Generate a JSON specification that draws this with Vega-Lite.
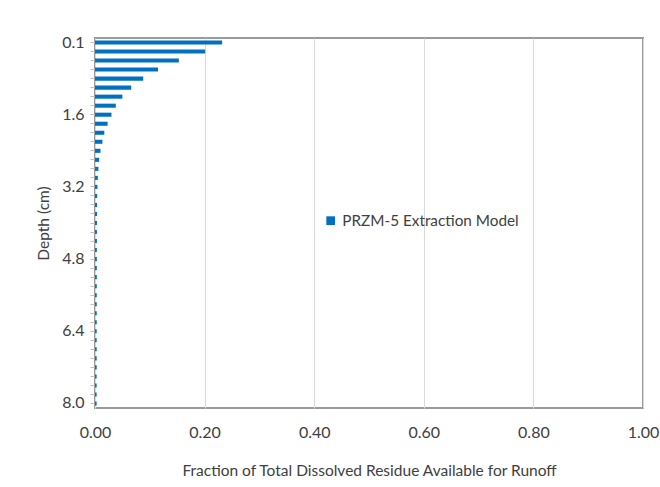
{
  "$schema": "https://vega.github.io/schema/vega-lite/v6.json",
  "autosize": {"type": "none"},
  "width": 548,
  "height": 370,
  "padding": {"left": 95, "top": 38, "right": 17, "bottom": 79},
  "background": "white",
  "config": {
    "font": "Lato",
    "view": {"stroke": "#9a9a9a", "strokeWidth": 2}
  },
  "data": {
    "values": [
      {"depth": "0.1", "fraction": 0.232, "series": "PRZM-5 Extraction Model"},
      {"depth": "0.2", "fraction": 0.201, "series": "PRZM-5 Extraction Model"},
      {"depth": "0.4", "fraction": 0.153, "series": "PRZM-5 Extraction Model"},
      {"depth": "0.6", "fraction": 0.115, "series": "PRZM-5 Extraction Model"},
      {"depth": "0.8", "fraction": 0.088, "series": "PRZM-5 Extraction Model"},
      {"depth": "1.0", "fraction": 0.066, "series": "PRZM-5 Extraction Model"},
      {"depth": "1.2", "fraction": 0.050, "series": "PRZM-5 Extraction Model"},
      {"depth": "1.4", "fraction": 0.038, "series": "PRZM-5 Extraction Model"},
      {"depth": "1.6", "fraction": 0.030, "series": "PRZM-5 Extraction Model"},
      {"depth": "1.8", "fraction": 0.023, "series": "PRZM-5 Extraction Model"},
      {"depth": "2.0", "fraction": 0.017, "series": "PRZM-5 Extraction Model"},
      {"depth": "2.2", "fraction": 0.0135, "series": "PRZM-5 Extraction Model"},
      {"depth": "2.4", "fraction": 0.010, "series": "PRZM-5 Extraction Model"},
      {"depth": "2.6", "fraction": 0.0075, "series": "PRZM-5 Extraction Model"},
      {"depth": "2.8", "fraction": 0.0062, "series": "PRZM-5 Extraction Model"},
      {"depth": "3.0", "fraction": 0.0052, "series": "PRZM-5 Extraction Model"},
      {"depth": "3.2", "fraction": 0.0045, "series": "PRZM-5 Extraction Model"},
      {"depth": "3.4", "fraction": 0.0040, "series": "PRZM-5 Extraction Model"},
      {"depth": "3.6", "fraction": 0.0038, "series": "PRZM-5 Extraction Model"},
      {"depth": "3.8", "fraction": 0.0037, "series": "PRZM-5 Extraction Model"},
      {"depth": "4.0", "fraction": 0.0036, "series": "PRZM-5 Extraction Model"},
      {"depth": "4.2", "fraction": 0.0035, "series": "PRZM-5 Extraction Model"},
      {"depth": "4.4", "fraction": 0.0035, "series": "PRZM-5 Extraction Model"},
      {"depth": "4.6", "fraction": 0.0034, "series": "PRZM-5 Extraction Model"},
      {"depth": "4.8", "fraction": 0.0034, "series": "PRZM-5 Extraction Model"},
      {"depth": "5.0", "fraction": 0.0033, "series": "PRZM-5 Extraction Model"},
      {"depth": "5.2", "fraction": 0.0033, "series": "PRZM-5 Extraction Model"},
      {"depth": "5.4", "fraction": 0.0033, "series": "PRZM-5 Extraction Model"},
      {"depth": "5.6", "fraction": 0.0032, "series": "PRZM-5 Extraction Model"},
      {"depth": "5.8", "fraction": 0.0032, "series": "PRZM-5 Extraction Model"},
      {"depth": "6.0", "fraction": 0.0032, "series": "PRZM-5 Extraction Model"},
      {"depth": "6.2", "fraction": 0.0032, "series": "PRZM-5 Extraction Model"},
      {"depth": "6.4", "fraction": 0.0031, "series": "PRZM-5 Extraction Model"},
      {"depth": "6.6", "fraction": 0.0031, "series": "PRZM-5 Extraction Model"},
      {"depth": "6.8", "fraction": 0.0031, "series": "PRZM-5 Extraction Model"},
      {"depth": "7.0", "fraction": 0.0031, "series": "PRZM-5 Extraction Model"},
      {"depth": "7.2", "fraction": 0.0031, "series": "PRZM-5 Extraction Model"},
      {"depth": "7.4", "fraction": 0.0030, "series": "PRZM-5 Extraction Model"},
      {"depth": "7.6", "fraction": 0.0030, "series": "PRZM-5 Extraction Model"},
      {"depth": "7.8", "fraction": 0.0030, "series": "PRZM-5 Extraction Model"},
      {"depth": "8.0", "fraction": 0.0030, "series": "PRZM-5 Extraction Model"}
    ]
  },
  "mark": {"type": "bar"},
  "encoding": {
    "y": {
      "field": "depth",
      "type": "ordinal",
      "sort": null,
      "scale": {"paddingInner": 0.55, "paddingOuter": 0.275},
      "axis": {
        "title": "Depth (cm)",
        "titleFont": "Lato",
        "titleFontSize": 15.5,
        "titleFontWeight": "normal",
        "titleColor": "#404040",
        "titlePadding": 10,
        "labelExpr": "indexof(['0.1','1.6','3.2','4.8','6.4','8.0'], datum.value) >= 0 ? datum.value : ''",
        "labelFontSize": 16,
        "labelColor": "#404040",
        "labelPadding": 6,
        "tickColor": "#bfbfbf",
        "tickSize": 5,
        "domain": false,
        "grid": false
      }
    },
    "x": {
      "field": "fraction",
      "type": "quantitative",
      "scale": {"domain": [0, 1]},
      "axis": {
        "title": "Fraction of Total Dissolved Residue Available for Runoff",
        "titleFont": "Lato",
        "titleFontSize": 15.5,
        "titleFontWeight": "normal",
        "titleColor": "#404040",
        "titlePadding": 23,
        "values": [0, 0.2, 0.4, 0.6, 0.8, 1.0],
        "format": ".2f",
        "labelFlush": false,
        "labelFontSize": 16,
        "labelColor": "#404040",
        "labelPadding": 16,
        "ticks": false,
        "domain": false,
        "grid": true,
        "gridColor": "#d9d9d9",
        "gridWidth": 1
      }
    },
    "color": {
      "field": "series",
      "type": "nominal",
      "scale": {"range": ["#0070C0"]},
      "legend": {
        "title": null,
        "orient": "none",
        "legendX": 228,
        "legendY": 175,
        "symbolType": "square",
        "symbolSize": 75,
        "symbolStrokeWidth": 0,
        "labelFontSize": 15.3,
        "labelLimit": 300,
        "labelColor": "#404040",
        "labelFont": "Lato"
      }
    }
  }
}
